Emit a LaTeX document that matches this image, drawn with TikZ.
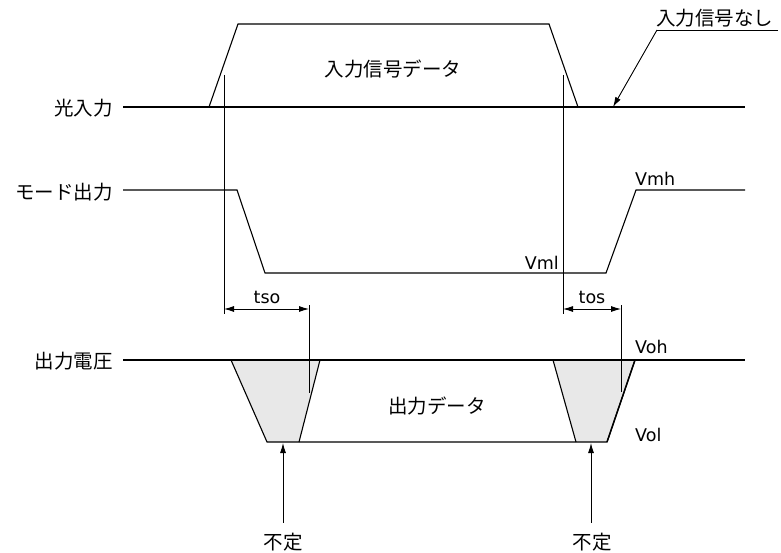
\documentclass[tikz,border=0pt]{standalone}
\usepackage{fontspec}
\setmainfont{DejaVu Sans}
\newfontfamily\jp{Noto Sans CJK JP}
\usetikzlibrary{arrows.meta}
\begin{document}
\begin{tikzpicture}[x=1pt,y=-1pt,
  wave/.style={line width=1.1pt, line join=miter},
  guide/.style={line width=0.9pt},
  jlbl/.style={font=\jp\fontsize{19.5}{21}\selectfont, inner sep=0pt},
  vlbl/.style={font=\fontsize{17.5}{19}\selectfont, inner sep=0pt},
  arr/.style={-{Latex[length=10pt,width=6pt]}, line width=0.9pt},
  dimarr/.style={{Latex[length=10pt,width=6pt]}-{Latex[length=10pt,width=6pt]}, line width=0.9pt}]
\useasboundingbox (0,0) rectangle (781,553);
% gray undefined regions
\fill[black!9] (231,360) -- (320,360) -- (299,442) -- (267,442) -- cycle;
\fill[black!9] (553,360) -- (635,360) -- (606,442) -- (576,442) -- cycle;
% light input
\draw[wave] (123,107) -- (745,107);
\draw[wave] (209,107) -- (238,24) -- (549,24) -- (578,107);
% mode output
\draw[wave] (123,190) -- (237,190) -- (265,273) -- (606,273) -- (636,190) -- (745,190);
% output voltage
\draw[wave] (123,360) -- (745,360);
\draw[wave] (231,360) -- (267,442) -- (607,442) -- (635,360);
\draw[wave] (299,442) -- (320,360);
\draw[wave] (553,360) -- (576,442);
\draw[line width=1.5pt] (607,442) -- (635,360);
% guide lines
\coordinate (g1t) at (224,75);  \coordinate (g1b) at (224,314);
\coordinate (g2t) at (309,305); \coordinate (g2b) at (309,393);
\coordinate (g3t) at (563,75);  \coordinate (g3b) at (563,314);
\coordinate (g4t) at (621,305); \coordinate (g4b) at (621,392);
\draw[guide] (g1t) -- (g1b);
\draw[guide] (g2t) -- (g2b);
\draw[guide] (g3t) -- (g3b);
\draw[guide] (g4t) -- (g4b);
\coordinate (d1a) at (224,309); \coordinate (d1b) at (309,309);
\coordinate (d2a) at (563,309); \coordinate (d2b) at (621,309);
\draw[dimarr] (d1a) -- (d1b);
\draw[dimarr] (d2a) -- (d2b);
% labels
\node[jlbl, anchor=east] (lin) at (113,108) {光入力};
\node[jlbl, anchor=east] (lmode) at (113,192) {モード出力};
\node[jlbl, anchor=east] (lout) at (113,361) {出力電圧};
\node[jlbl] (ldata) at (393,69) {入力信号データ};
\node[jlbl] (lodata) at (437,406) {出力データ};
\node[jlbl, anchor=west] (lnone) at (656,18) {入力信号なし};
\node[vlbl, anchor=west] (vmh) at (635,179) {Vmh};
\node[vlbl, anchor=east] (vml) at (559,263) {Vml};
\node[vlbl] (tso) at (267,297) {tso};
\node[vlbl] (tos) at (592,297) {tos};
\node[vlbl, anchor=west] (voh) at (635,347) {Voh};
\node[vlbl, anchor=west] (vol) at (635,435) {Vol};
\node[jlbl] (u1) at (283,542) {不定};
\node[jlbl] (u2) at (592,542) {不定};
% leader for no-signal
\coordinate (ns1) at (778,30);
\coordinate (ns2) at (657,30);
\coordinate (ns3) at (613,107);
\draw[line width=0.9pt] (ns1) -- (ns2);
\draw[arr] (ns2) -- (ns3);
% undefined arrows
\coordinate (a1) at (283,443);
\coordinate (a2) at (591,443);
\draw[arr] (u1.north) ++(0,-10) -- (a1);
\draw[arr] (u2.north) ++(-1,-10) -- (a2);
\end{tikzpicture}
\end{document}
